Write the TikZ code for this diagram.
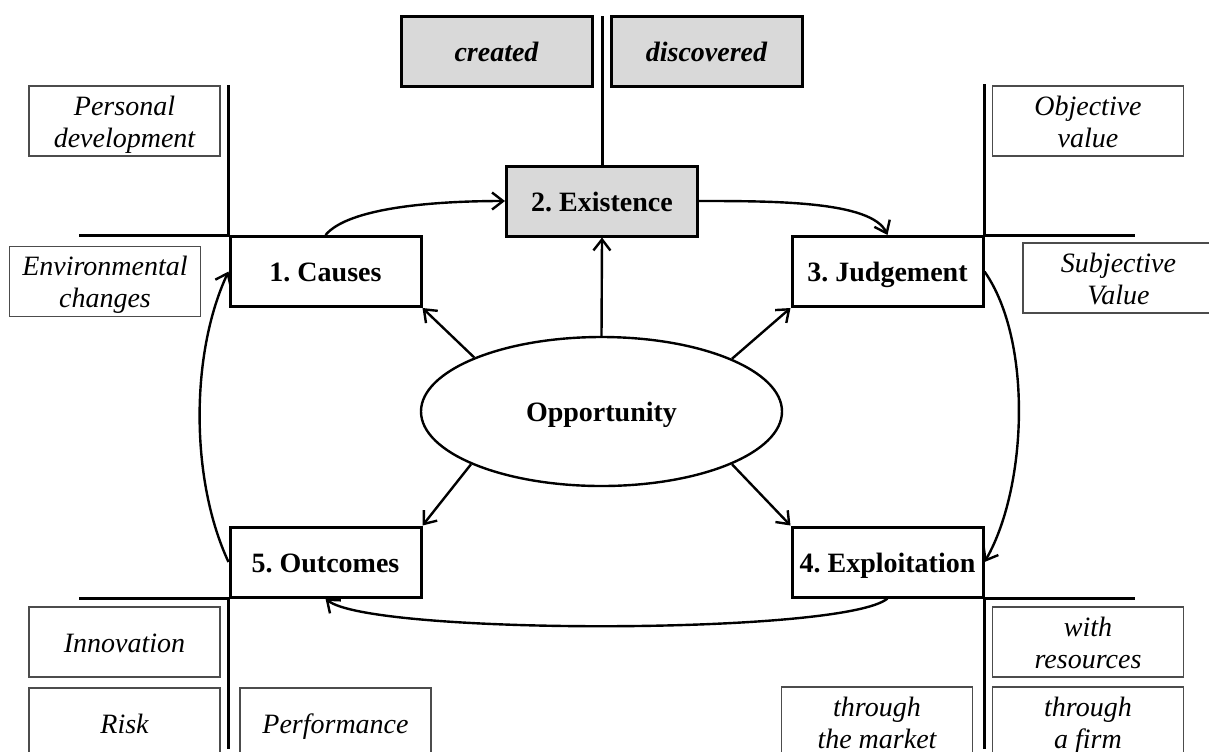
\documentclass[tikz,border=0pt]{standalone}
\usepackage{fontspec}
\setmainfont{Liberation Serif}
\usetikzlibrary{shapes.geometric,arrows.meta}
\definecolor{boxgray}{RGB}{217,217,217}
\newcommand{\diagfont}{\fontsize{14}{16}\selectfont\frenchspacing}
% fixed line height so every box places its baselines alike
\newcommand{\dstrut}{\rule[-3pt]{0pt}{16pt}}

\begin{document}
\begin{tikzpicture}[x=0.5pt,y=-0.5pt,
  stage/.style={draw, line width=1.5pt, rectangle, minimum width=95.5pt,
    minimum height=35pt, inner sep=0pt, align=center, font=\diagfont\bfseries},
  shaded/.style={stage, fill=boxgray},
  tag/.style={draw=black!70, line width=0.6pt, rectangle, minimum width=95.5pt,
    minimum height=35pt, inner sep=0pt, align=center, font=\diagfont\itshape},
  axis/.style={line width=1.5pt},
  flow/.style={line width=1.2pt, -{Straight Barb[length=5.5pt,width=8.5pt]}}]

\clip (0,0) rectangle (1209,751);

% central concept
\node[draw, ellipse, line width=1.2pt, minimum width=180.5pt, minimum height=74.5pt,
  inner sep=0pt, font=\diagfont\bfseries] (opp) at (601.5,411.5) {\dstrut Opportunity};

% the five stages
\node[stage]  (causes) at (325.5,271.5) {\dstrut 1. Causes};
\node[shaded] (exist)  at (602,201)     {\dstrut 2. Existence};
\node[stage]  (judge)  at (887.5,271.5) {\dstrut 3. Judgement};
\node[stage]  (expl)   at (887.5,562)   {\dstrut 4. Exploitation};
\node[stage]  (outc)   at (325.5,562)   {\dstrut 5. Outcomes};

% modes of existence
\node[shaded, font=\diagfont\bfseries\itshape] (created)    at (496.5,51) {\dstrut created};
\node[shaded, font=\diagfont\bfseries\itshape] (discovered) at (706.5,51) {\dstrut discovered};

% descriptive tags
\node[tag] (personal)    at (124.5,121)  {\dstrut Personal\\\dstrut development};
\node[tag] (environ)     at (105,281.5)  {\dstrut Environmental\\\dstrut changes};
\node[tag] (objective)   at (1088,121)   {\dstrut Objective\\\dstrut value};
\node[tag] (subjective)  at (1118.5,278) {\dstrut Subjective\\\dstrut Value};
\node[tag] (innovation)  at (124.5,642)  {\dstrut Innovation};
\node[tag] (risk)        at (124.5,723)  {\dstrut Risk};
\node[tag] (performance) at (335.5,723)  {\dstrut Performance};
\node[tag] (withres)     at (1088,642)   {\dstrut with\\\dstrut resources};
\node[tag] (market)      at (877,722)    {\dstrut through\\\dstrut the market};
\node[tag] (firm)        at (1088,722)   {\dstrut through\\\dstrut a firm};

% dividing axes
\coordinate (topend) at (602,16);
\draw[axis] (exist.north) -- (topend);
\draw[axis] (causes.north west) -- ++(-150,0);
\draw[axis] (causes.north west) -- ++(0,-150);
\draw[axis] (judge.north east) -- ++(150,0);
\draw[axis] (judge.north east) -- ++(0,-151);
\draw[axis] (outc.south west) -- ++(-150,0);
\draw[axis] (outc.south west) -- ++(0,150);
\draw[axis] (expl.south east) -- ++(150,0);
\draw[axis] (expl.south east) -- ++(0,150);

% radial links from the opportunity
\draw[flow] (opp.north)  -- (exist.south);
\draw[flow] (opp.157.5)  -- (causes.south east);
\draw[flow] (opp.22.5)   -- (judge.south west);
\draw[flow] (opp.202.5)  -- (outc.north east);
\draw[flow] (opp.-22.5)  -- (expl.north west);

% the cycle of stages
\draw[flow] (causes.north) to[out=50,in=180,out looseness=0.5,in looseness=1] (exist.west);
\draw[flow] (exist.east) to[out=0,in=115,out looseness=1,in looseness=0.5] (judge.north);
\draw[flow] (judge.east) to[out=-55,in=60,looseness=0.75] (expl.east);
\draw[flow] (expl.south) to[out=-140,in=-40,looseness=0.26] (outc.south);
\draw[flow] (outc.west) to[out=115,in=245,looseness=0.8] (causes.west);

\end{tikzpicture}
\end{document}
